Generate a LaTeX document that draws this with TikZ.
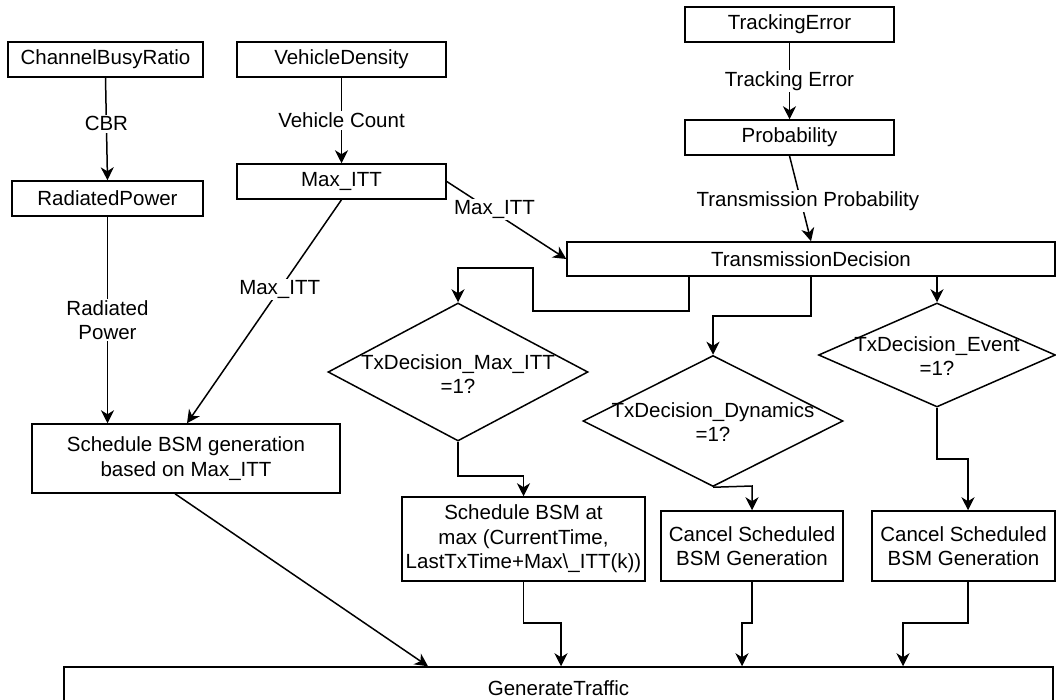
\documentclass[tikz,border=0pt]{standalone}
\usepackage{fontspec}
\setmainfont{Liberation Sans}
\usetikzlibrary{arrows.meta,shapes.geometric}
\begin{document}
\begin{tikzpicture}[x=1pt,y=-1pt,
  every node/.style={font=\fontsize{20.5}{24.5}\selectfont},
  box/.style={draw, line width=1.5pt, inner sep=0pt, align=center},
  dia/.style={draw, diamond, line width=1.5pt, inner sep=0pt, aspect=1},
  dtxt/.style={inner sep=0pt, align=center},
  lbl/.style={fill=white, inner sep=1.5pt, align=center},
  arr/.style={line width=1.5pt, -{Stealth[length=13pt,width=13pt,inset=4pt]}}]
\useasboundingbox (0,0) rectangle (1056,700);
\clip (0,0) rectangle (1056,700);
\fill[white] (0,0) rectangle (1056,700);

% boxes
\node[box, minimum width=195pt, minimum height=35pt] (cbr) at (105.5,59.5) {ChannelBusyRatio};
\node[box, minimum width=209pt, minimum height=35pt] (vd) at (341.5,59.5) {VehicleDensity};
\node[box, minimum width=191pt, minimum height=35pt] (rp) at (107.5,198.5) {RadiatedPower};
\node[box, minimum width=209pt, minimum height=35pt] (mitt) at (341.5,181.5) {Max\_ITT};
\node[box, minimum width=209pt, minimum height=35pt] (te) at (789.5,24.5) {TrackingError};
\node[box, minimum width=209pt, minimum height=35pt] (prob) at (789.5,137.5) {Probability};
\node[box, minimum width=488pt, minimum height=34pt] (td) at (811,259) {TransmissionDecision};
\node[box, minimum width=308pt, minimum height=69pt] (sbg) at (186,458.5) {Schedule BSM generation\\based on Max\_ITT};
\node[box, minimum width=243pt, minimum height=84pt] (sba) at (523.5,539) {Schedule BSM at\\max (CurrentTime,\\LastTxTime+Max\textbackslash\_ITT(k))};
\node[box, minimum width=182pt, minimum height=70pt] (c1) at (752,546) {Cancel Scheduled\\BSM Generation};
\node[box, minimum width=183pt, minimum height=70pt] (c2) at (963.5,546) {Cancel Scheduled\\BSM Generation};
\node[box, minimum width=989pt, minimum height=42pt] (gt) at (558.5,688) {GenerateTraffic};

% diamonds
\node[dia, minimum width=260pt, minimum height=138pt] (d1) at (458,372) {};
\node[dtxt] (d1t) at (458,374) {TxDecision\_Max\_ITT\\=1?};
\node[dia, minimum width=260pt, minimum height=131pt] (d2) at (713,421) {};
\node[dtxt] (d2t) at (713,422) {TxDecision\_Dynamics\\=1?};
\node[dia, minimum width=237pt, minimum height=104pt] (d3) at (937,355) {};
\node[dtxt] (d3t) at (937,356) {TxDecision\_Event\\=1?};

% connectors with labels
\draw[arr] (cbr.south) -- (rp.north) node[lbl, pos=0.45] {CBR};
\draw[arr] (vd.south) -- (mitt.north) node[lbl, midway] {Vehicle Count};
\draw[arr] (te.south) -- (prob.north) node[lbl, midway] {Tracking Error};
\draw[arr] (prob.south) -- (td.north) node[lbl, pos=0.53, xshift=7pt] {Transmission Probability};
\draw[arr] (mitt.east) -- (td.west) node[lbl, pos=0.4, yshift=3pt] {Max\_ITT};
\draw[arr] (mitt.south) -- ([xshift=1pt]sbg.north) node[lbl, pos=0.4] {Max\_ITT};
\draw[arr] (rp.south) -- (rp.south |- sbg.north) node[lbl, midway] {Radiated\\Power};
\draw[arr] ([xshift=-11pt]sbg.south) -- ([xshift=-130.5pt]gt.north);

% from TransmissionDecision to diamonds
\draw[arr] ([xshift=-122pt]td.south) -- (689,311) -- (533,311) -- (533,268) -- (458,268) -- (d1.north);
\draw[arr] (td.south) -- (811,316) -- (713,316) -- (d2.north);
\draw[arr] (td.south -| d3.north) -- (d3.north);

% diamonds to boxes
\draw[arr] (d1.south) -- (458,476) -- (523.5,476) -- (sba.north);
\draw[arr] (d2.south) -- (752,486) -- (c1.north);
\draw[arr] (d3.south) -- (937,459) -- (968,459) -- ([xshift=4.5pt]c2.north);

% boxes to GenerateTraffic
\draw[arr] (sba.south) -- (523.5,623) -- (561,623) -- ([xshift=2.5pt]gt.north);
\draw[arr] (c1.south) -- (752,623) -- (742,623) -- ([xshift=183.5pt]gt.north);
\draw[arr] ([xshift=4.5pt]c2.south) -- (968,623) -- (903,623) -- ([xshift=344.5pt]gt.north);
\end{tikzpicture}
\end{document}
